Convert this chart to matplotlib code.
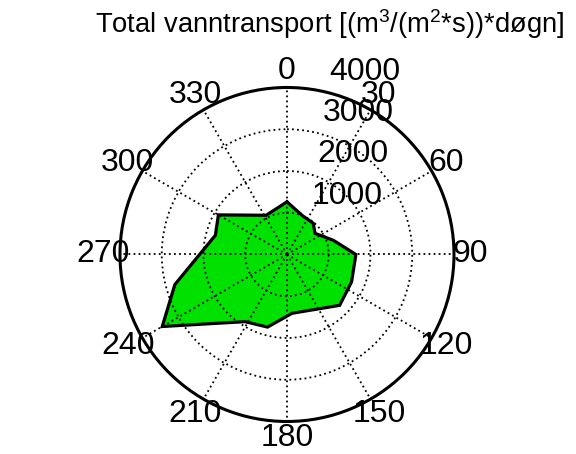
import numpy as np
import matplotlib
matplotlib.use('Agg')
import matplotlib.pyplot as plt

plt.rcParams['font.family'] = ['Liberation Sans', 'DejaVu Sans']
plt.rcParams['mathtext.fontset'] = 'custom'
plt.rcParams['mathtext.rm'] = 'Liberation Sans'
plt.rcParams['mathtext.it'] = 'Liberation Sans'

# retning (grader, med klokka fra nord) og total vanntransport
retning = [0, 22, 40, 53, 73, 90, 113, 134, 175, 195, 212, 240, 255, 285, 300, 332]
transport = [1260, 1000, 977, 841, 1162, 1650, 1680, 1753, 1413, 1800, 1897, 3450, 2780, 1776, 1897, 1064]

vinkel_ticks = list(range(0, 360, 30))
r_ticks = [1000, 2000, 3000, 4000]
r_max = 4000

tittel = r'Total vanntransport [(m$^3$/(m$^2$*s))*døgn]'

fig = plt.figure(figsize=(5.76, 4.54), dpi=100)
ax = fig.add_axes([0.2083, 0.0716, 0.5799, 0.7357], projection='polar')
ax.set_theta_zero_location('N')
ax.set_theta_direction(-1)
ax.set_ylim(0, r_max)

theta = np.deg2rad(retning)
ax.fill(theta, transport, color='#00e100', zorder=1, linewidth=0)
ax.plot(np.append(theta, theta[0]), transport + [transport[0]],
        color='black', linewidth=2.3, zorder=4, solid_joinstyle='miter')

# grid som i matlab polar
ax.set_thetagrids(vinkel_ticks, labels=[''] * len(vinkel_ticks))
ax.set_rgrids(r_ticks[:-1], labels=[''] * (len(r_ticks) - 1))
ax.set_axisbelow(False)
ax.grid(True, color='black', linestyle=(0, (1, 1.8)), linewidth=1.3, zorder=3)
ax.spines['polar'].set_linewidth(2.2)
ax.spines['polar'].set_zorder(5)
ax.tick_params(length=0)

for v in vinkel_ticks:
    ax.text(np.deg2rad(v), 1.1 * r_max, str(v), ha='center', va='center',
            fontsize=23, clip_on=False)

for r in r_ticks:
    ax.annotate(str(r), xy=(np.deg2rad(8), r), xytext=(13.5, 6.8),
                textcoords='offset points', ha='left', va='baseline',
                fontsize=23, zorder=6, annotation_clip=False)

fig.text(0.573, 0.927, tittel, ha='center', va='baseline', fontsize=19.7)

fig.savefig('out.png', dpi=100)
